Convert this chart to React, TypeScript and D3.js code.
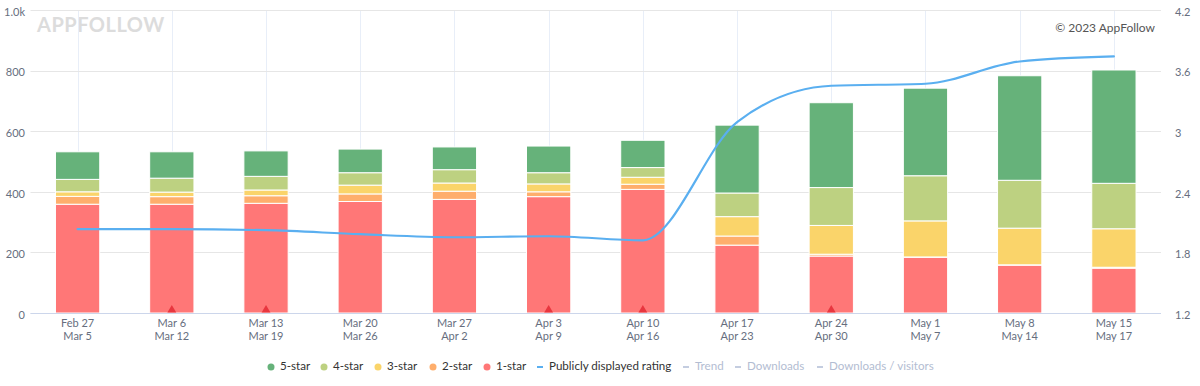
import React from 'react';
import * as d3 from 'd3';

// week ranges (two-line x labels)
const weekStart = ['Feb 27', 'Mar 6', 'Mar 13', 'Mar 20', 'Mar 27', 'Apr 3', 'Apr 10', 'Apr 17', 'Apr 24', 'May 1', 'May 8', 'May 15'];
const weekEnd = ['Mar 5', 'Mar 12', 'Mar 19', 'Mar 26', 'Apr 2', 'Apr 9', 'Apr 16', 'Apr 23', 'Apr 30', 'May 7', 'May 14', 'May 17'];

// review counts per star
const star1 = [359, 359, 362, 368, 375, 384, 408, 224, 188, 184, 158, 148];
const star2 = [26, 25, 25, 25, 27, 16, 17, 30, 6, 1, 1, 3];
const star3 = [15, 15, 19, 29, 27, 26, 23, 64, 95, 119, 121, 127];
const star4 = [41, 46, 45, 41, 44, 37, 32, 78, 125, 149, 158, 150];
const star5 = [91, 87, 84, 78, 75, 88, 90, 224, 280, 289, 345, 374];

// publicly displayed rating
const rating = [2.03, 2.03, 2.02, 1.98, 1.95, 1.96, 1.92, 3.09, 3.45, 3.47, 3.69, 3.74];

// weeks flagged with an event marker
const eventWeeks = ['Mar 6', 'Mar 13', 'Apr 3', 'Apr 10', 'Apr 24'];

const leftTicks = [0, 200, 400, 600, 800, 1000];
const rightTicks = [1.2, 1.8, 2.4, 3, 3.6, 4.2];

const keys = ['star1', 'star2', 'star3', 'star4', 'star5'];
const colors: Record<string, string> = {
  star1: '#ff7777',
  star2: '#feae6c',
  star3: '#fad46a',
  star4: '#bdd181',
  star5: '#66b27a',
};
const lineColor = '#5aaff0';

const legendItems = [
  { label: '5-star', type: 'dot', color: colors.star5, x: 271, active: true },
  { label: '4-star', type: 'dot', color: colors.star4, x: 324, active: true },
  { label: '3-star', type: 'dot', color: colors.star3, x: 378, active: true },
  { label: '2-star', type: 'dot', color: colors.star2, x: 433, active: true },
  { label: '1-star', type: 'dot', color: colors.star1, x: 487, active: true },
  { label: 'Publicly displayed rating', type: 'line', color: lineColor, x: 540, active: true },
  { label: 'Trend', type: 'line', color: '#c4cde0', x: 686, active: false },
  { label: 'Downloads', type: 'line', color: '#c4cde0', x: 738, active: false },
  { label: 'Downloads / visitors', type: 'line', color: '#c4cde0', x: 820, active: false },
];

export default function App() {
  const width = 1200;
  const height = 386;
  const left = 30.5;
  const right = 1161;
  const top = 10;
  const bottom = 313;

  const x = d3.scaleBand<string>()
    .domain(weekStart)
    .range([left, right])
    .paddingInner(0.53)
    .paddingOuter(0.265);
  const bw = x.bandwidth();
  const cx = (d: string) => (x(d) as number) + bw / 2;

  const yL = d3.scaleLinear().domain([0, 1000]).range([bottom, top]);
  const yR = d3.scaleLinear().domain([1.2, 4.2]).range([bottom, top]);

  const table = weekStart.map((w, i) => ({
    week: w,
    star1: star1[i],
    star2: star2[i],
    star3: star3[i],
    star4: star4[i],
    star5: star5[i],
  }));
  const series = d3.stack<any>().keys(keys)(table);

  const line = d3.line<number>()
    .x((_, i) => cx(weekStart[i]))
    .y((d) => yR(d))
    .curve(d3.curveMonotoneX);

  const tri = d3.symbol().type(d3.symbolTriangle).size(34)();
  const font = 'Lato, "Open Sans", sans-serif';

  return (
    <svg width={width} height={height} style={{ position: 'absolute', left: 0, top: 0, fontFamily: font }}>
      <rect width={width} height={height} fill="#fff" />

      {/* watermark */}
      <text x={37} y={32} fontSize={20} fontWeight={700} fill="#dcdcdc" letterSpacing={0.5}>APPFOLLOW</text>

      {/* vertical grid */}
      {weekStart.map((w) => (
        <line key={'v' + w} x1={Math.round(cx(w)) + 0.5} x2={Math.round(cx(w)) + 0.5} y1={top} y2={bottom} stroke="#e8eef8" />
      ))}
      {/* horizontal grid */}
      {leftTicks.map((t) => (
        <line key={'h' + t} x1={left} x2={right} y1={Math.round(yL(t)) + 0.5} y2={Math.round(yL(t)) + 0.5} stroke="#e6e6e6" />
      ))}

      <text x={1155} y={32} fontSize={12} fill="#555" textAnchor="end">© 2023 AppFollow</text>

      {/* stacked bars */}
      {series.map((s) => (
        <g key={s.key} fill={colors[s.key]}>
          {s.map((d, i) => (
            <rect
              key={i}
              x={x(weekStart[i])}
              y={yL(d[1])}
              width={bw}
              height={Math.max(0, yL(d[0]) - yL(d[1]))}
              stroke="#fff"
              strokeWidth={1}
            />
          ))}
        </g>
      ))}

      {/* x axis line */}
      <line x1={left} x2={right} y1={bottom + 0.5} y2={bottom + 0.5} stroke="#ccd6eb" />

      {/* event markers */}
      {eventWeeks.map((w) => (
        <path key={'e' + w} d={tri as string} transform={`translate(${cx(w)},${bottom - 3})`} fill="#e8363f" />
      ))}

      {/* rating line */}
      <path d={line(rating) as string} fill="none" stroke={lineColor} strokeWidth={2.2} strokeLinejoin="round" strokeLinecap="round" />

      {/* left axis labels */}
      {leftTicks.map((t) => (
        <text key={'l' + t} x={25} y={yL(t) + 3} fontSize={11} fill="#666e7e" textAnchor="end" dominantBaseline="middle">
          {t === 1000 ? '1.0k' : t}
        </text>
      ))}
      {/* right axis labels */}
      {rightTicks.map((t) => (
        <text key={'r' + t} x={1175} y={yR(t) + 3} fontSize={11} fill="#666e7e" dominantBaseline="middle">
          {t}
        </text>
      ))}

      {/* x labels */}
      {weekStart.map((w, i) => (
        <text key={'x' + w} x={cx(w)} y={327} fontSize={11} fill="#666e7e" textAnchor="middle">
          <tspan x={cx(w)} dy={0}>{w}</tspan>
          <tspan x={cx(w)} dy={13}>{weekEnd[i]}</tspan>
        </text>
      ))}

      {/* legend */}
      {legendItems.map((it) => (
        <g key={it.label} transform={`translate(${it.x},367)`}>
          {it.type === 'dot' ? (
            <circle r={3.5} fill={it.color} />
          ) : (
            <line x1={-3} x2={3} y1={0} y2={0} stroke={it.color} strokeWidth={2} />
          )}
          <text x={9} y={0} fontSize={11.6} fill={it.active ? '#333' : '#b3bdd2'} dominantBaseline="middle">
            {it.label}
          </text>
        </g>
      ))}
    </svg>
  );
}
